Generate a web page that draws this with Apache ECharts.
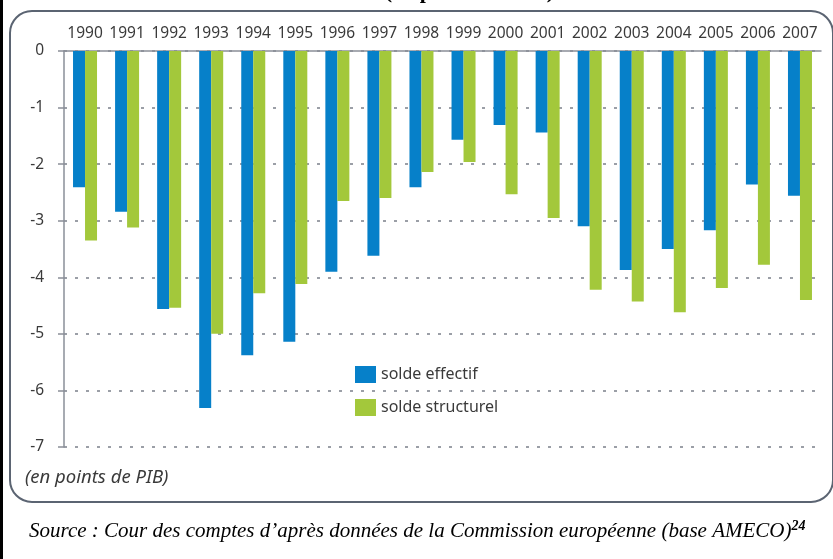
<!DOCTYPE html>
<html>
<head>
<meta charset="utf-8">
<script src="https://cdn.jsdelivr.net/npm/echarts@6/dist/echarts.min.js"></script>
<style>
  html, body { margin: 0; padding: 0; background: #fff; }
  #chart { width: 833px; height: 559px; }
</style>
</head>
<body>
<div id="chart"></div>
<script>
const years = ["1990", "1991", "1992", "1993", "1994", "1995", "1996", "1997", "1998",
  "1999", "2000", "2001", "2002", "2003", "2004", "2005", "2006", "2007"];
const soldeEffectif = [-2.41, -2.84, -4.56, -6.31, -5.38, -5.14, -3.9, -3.62, -2.41,
  -1.57, -1.31, -1.44, -3.1, -3.87, -3.5, -3.17, -2.36, -2.56];
const soldeStructurel = [-3.35, -3.12, -4.54, -5.0, -4.28, -4.12, -2.65, -2.6, -2.14,
  -1.96, -2.53, -2.95, -4.22, -4.43, -4.62, -4.19, -3.78, -4.4];
const yTicks = [0, -1, -2, -3, -4, -5, -6, -7];

const blue = "#0680c9";
const green = "#a3c83b";
const axisGray = "#8a8f98";
const textColor = "#3a3a3a";
const font = "Noto Sans";

const chart = echarts.init(document.getElementById("chart"));

chart.setOption({
  animation: false,
  textStyle: { fontFamily: font },
  grid: { left: 64, right: 12, top: 51, bottom: 112 },
  legend: {
    orient: "vertical",
    left: 350,
    top: 361,
    itemWidth: 21,
    itemHeight: 17,
    itemGap: 16,
    icon: "rect",
    textStyle: { fontSize: 16, color: textColor, fontFamily: font },
    data: ["solde effectif", "solde structurel"],
  },
  xAxis: {
    type: "category",
    position: "top",
    data: years,
    axisLine: { lineStyle: { color: axisGray, width: 1.5 } },
    axisTick: { inside: true, length: 5, lineStyle: { color: axisGray, width: 1.5 } },
    axisLabel: { color: textColor, fontSize: 15.5, margin: 9, interval: 0 },
  },
  yAxis: {
    type: "value",
    min: -7,
    max: 0,
    interval: 1,
    axisLine: { show: true, lineStyle: { color: axisGray, width: 1.5 } },
    axisTick: { show: true, length: 6, lineStyle: { color: axisGray, width: 1.5 } },
    axisLabel: {
      color: textColor,
      fontSize: 15.5,
      margin: 20,
      formatter: (v) => (yTicks.includes(v) ? String(v) : ""),
    },
    splitLine: {
      show: true,
      lineStyle: { color: "#7b808a", width: 1.5, type: [3, 8] },
    },
  },
  series: [
    {
      name: "solde effectif",
      type: "bar",
      data: soldeEffectif,
      barWidth: 12,
      barGap: "0%",
      itemStyle: { color: blue },
    },
    {
      name: "solde structurel",
      type: "bar",
      data: soldeStructurel,
      barWidth: 12,
      barGap: "0%",
      itemStyle: { color: green },
    },
  ],
  graphic: [
    {
      type: "rect",
      silent: true,
      shape: { x: 10, y: 11, width: 823, height: 491, r: 22 },
      style: { fill: null, stroke: "#5b6472", lineWidth: 2 },
      z: -1,
    },
    {
      type: "rect",
      silent: true,
      shape: { x: 0, y: 0, width: 3, height: 559 },
      style: { fill: "#000" },
    },
    {
      type: "text",
      silent: true,
      left: 284,
      top: -19,
      style: {
        text: "1990-2007 (en points de PIB)",
        font: "bold 22px 'Liberation Serif'",
        fill: "#000",
      },
    },
    {
      type: "text",
      silent: true,
      left: 25,
      top: 468,
      style: {
        text: "(en points de PIB)",
        font: "italic 18.5px 'Noto Sans'",
        fill: textColor,
      },
    },
    {
      type: "text",
      silent: true,
      left: 29,
      top: 519,
      style: {
        text: "{a|Source : Cour des comptes d\u2019apr\u00e8s donn\u00e9es de la Commission europ\u00e9enne (base AMECO)}{b|24}",
        rich: {
          a: { font: "italic 21px 'Liberation Serif'", fill: "#000", verticalAlign: "bottom" },
          b: { font: "bold italic 14px 'Liberation Serif'", fill: "#000", verticalAlign: "top", padding: [0, 0, 9, 0] },
        },
      },
    },
  ],
});
</script>
</body>
</html>
